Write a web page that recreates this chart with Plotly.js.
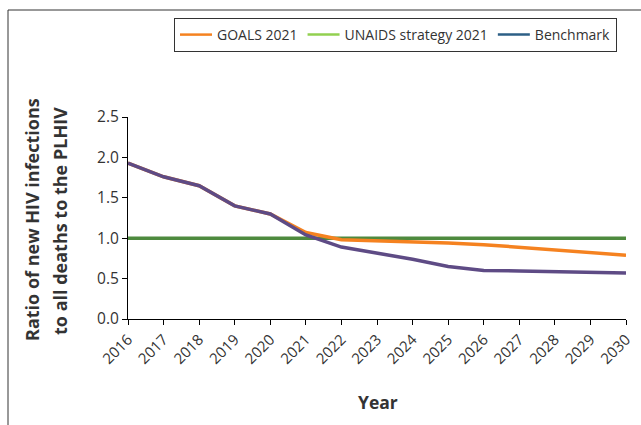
<!DOCTYPE html>
<html>
<head>
<meta charset="utf-8">
<script src="https://cdn.plot.ly/plotly-3.0.1.min.js"></script>
<style>
html,body{margin:0;padding:0;background:#fff;}
#chart{width:641px;height:425px;}
</style>
</head>
<body>
<div id="chart"></div>
<script>
const years = [2016,2017,2018,2019,2020,2021,2022,2023,2024,2025,2026,2027,2028,2029,2030];
const goals2021 = [1.93,1.76,1.65,1.40,1.30,1.07,0.98,0.97,0.96,0.94,0.92,0.89,0.86,0.83,0.79];
const unaidsStrategy = [1.0,1.0,1.0,1.0,1.0,1.0,1.0,1.0,1.0,1.0,1.0,1.0,1.0,1.0,1.0];
const benchmark = [1.93,1.76,1.65,1.40,1.30,1.04,0.89,0.82,0.74,0.65,0.60,0.595,0.59,0.58,0.57];
const seriesNames = ['GOALS 2021','UNAIDS strategy 2021','Benchmark'];
const yTicks = [0,0.5,1.0,1.5,2.0,2.5];
const yTickText = ['0.0','0.5','1.0','1.5','2.0','2.5'];
const yTitleLines = ['Ratio of new HIV infections','to all deaths to the PLHIV'];
const xTitle = 'Year';

const font = 'Open Sans, Noto Sans, sans-serif';
const traces = [
  {x: years, y: unaidsStrategy, mode:'lines', line:{color:'#4E8A3E', width:3.5}, showlegend:false, name: seriesNames[1]},
  {x: years, y: goals2021, mode:'lines', line:{color:'#F58220', width:3.5}, showlegend:false, name: seriesNames[0]},
  {x: years, y: benchmark, mode:'lines', line:{color:'#5E4B85', width:3.5}, showlegend:false, name: seriesNames[2]},
  {x:[null], y:[null], mode:'lines', line:{color:'#F58220', width:2.5}, name: seriesNames[0]},
  {x:[null], y:[null], mode:'lines', line:{color:'#92D050', width:2.5}, name: seriesNames[1]},
  {x:[null], y:[null], mode:'lines', line:{color:'#2D5F86', width:2.5}, name: seriesNames[2]}
];

const L = 128, R = 15, T = 117, B = 106, W = 641, H = 425;
const pw = W - L - R, ph = H - T - B;
const px = v => (v - L) / pw;
const py = v => (H - B - v) / ph;

const layout = {
  width: W, height: H,
  margin: {l:L, r:R, t:T, b:B, pad:0},
  paper_bgcolor:'#fff', plot_bgcolor:'#fff',
  font: {family: font, color:'#333', size:13},
  xaxis: {
    range:[2016,2030], tickvals: years, ticktext: years.map(String), tickangle:-45,
    showline:true, linecolor:'#000', linewidth:1, ticks:'outside', ticklen:5, tickcolor:'#000',
    showgrid:false, zeroline:false, tickfont:{family:font, size:15, color:'#333'}, fixedrange:true
  },
  yaxis: {
    range:[0,2.5], tickvals: yTicks, ticktext: yTickText,
    showline:true, linecolor:'#000', linewidth:1, ticks:'outside', ticklen:5, tickcolor:'#000',
    showgrid:false, zeroline:false, tickfont:{family:font, size:15.5, color:'#333'}, fixedrange:true
  },
  showlegend:true,
  legend: {
    orientation:'h', x: px(174), y: py(18), xanchor:'left', yanchor:'top',
    bordercolor:'#333', borderwidth:1, bgcolor:'#fff',
    font:{family:font, size:14, color:'#333'}, itemwidth:32, tracegroupgap:0
  },
  annotations: [
    {text:'<b>' + yTitleLines[0] + '</b>', xref:'paper', yref:'paper',
     x: px(32), y: py(220), textangle:-90, showarrow:false, xanchor:'center', yanchor:'middle',
     font:{family:font, size:18, color:'#333'}},
    {text:'<b>' + yTitleLines[1] + '</b>', xref:'paper', yref:'paper',
     x: px(60), y: py(221), textangle:-90, showarrow:false, xanchor:'center', yanchor:'middle',
     font:{family:font, size:18, color:'#333'}},
    {text:'<b>' + xTitle + '</b>', xref:'paper', yref:'paper', x: px(378), y: py(402), showarrow:false,
     xanchor:'center', yanchor:'middle', font:{family:font, size:17.5, color:'#333'}}
  ],
  shapes: [
    {type:'line', xref:'paper', yref:'paper', x0: px(8), x1: px(8), y0: py(10), y1: py(430), line:{color:'#333', width:1}},
    {type:'line', xref:'paper', yref:'paper', x0: px(8), x1: px(650), y0: py(10), y1: py(10), line:{color:'#333', width:1}}
  ]
};

Plotly.newPlot('chart', traces, layout, {displayModeBar:false, staticPlot:true});
</script>
</body>
</html>
